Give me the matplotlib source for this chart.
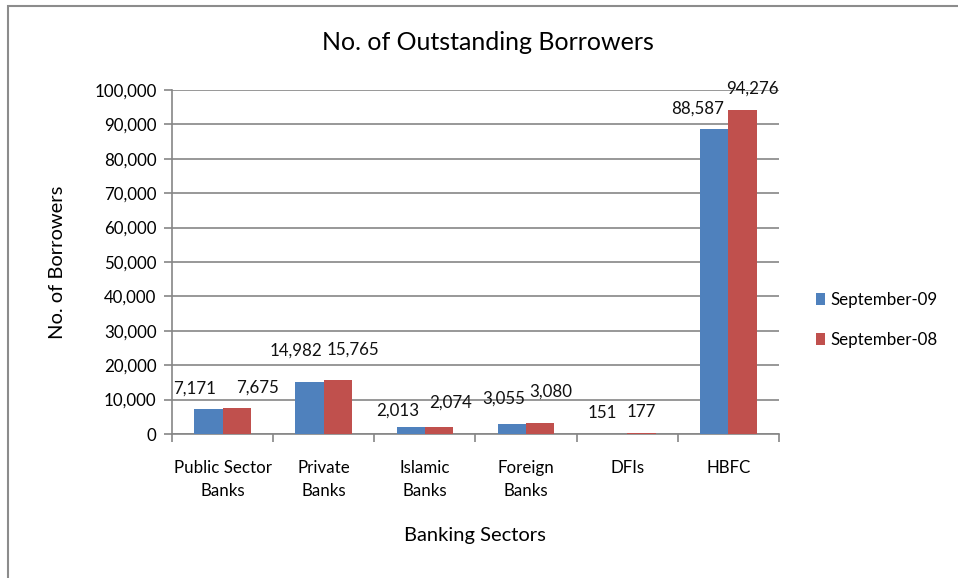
import matplotlib
matplotlib.use("Agg")
import matplotlib.pyplot as plt
import matplotlib.patches as mpatches
import numpy as np

# ── Data ─────────────────────────────────────────────────────────────────────
categories = ["Public Sector\nBanks", "Private\nBanks", "Islamic\nBanks",
              "Foreign\nBanks", "DFIs", "HBFC"]
sep09 = [7171, 14982, 2013, 3055, 151, 88587]
sep08 = [7675, 15765, 2074, 3080, 177, 94276]
series_names = ["September-09", "September-08"]

# label offsets (pixels) mimicking Excel's placement
off09 = [(-14, 16), (-14, 27), (-13, 11), (-8, 20), (-11, 16), (-17, 16)]
off08 = [(21, 15), (15, 25), (11, 19), (11, 27), (0, 16), (10, 16)]

BLUE = "#4F81BD"
RED = "#C0504D"
GRID = "#868686"
FS = 12.2

plt.rcParams["font.family"] = ["Lato", "DejaVu Sans"]

fig = plt.figure(figsize=(9.58, 5.78), dpi=100)
ax = fig.add_axes([0.1795, 0.2491, 0.6336, 0.5952])

# outer chart frame
fig.patches.append(mpatches.Rectangle((8 / 958, -0.05), 1.2, (578 - 6) / 578 + 0.05,
                                      transform=fig.transFigure, fill=False,
                                      edgecolor="#8c8c8c", linewidth=1.5))

x = np.arange(len(categories))
w = 0.28
b1 = ax.bar(x - w / 2, sep09, w, color=BLUE, label=series_names[0], zorder=3)
b2 = ax.bar(x + w / 2, sep08, w, color=RED, label=series_names[1], zorder=3)

for bars, vals, offs in [(b1, sep09, off09), (b2, sep08, off08)]:
    for bar, v, (dx, dy) in zip(bars, vals, offs):
        ax.annotate(f"{v:,}", (bar.get_x() + bar.get_width() / 2, v),
                    xytext=(dx, dy), textcoords="offset pixels",
                    ha="center", va="baseline", fontsize=FS, color="#111111",
                    zorder=4)

ax.set_xlim(-0.5, len(categories) - 0.5)
ax.set_ylim(0, 100000)
ax.set_yticks(np.arange(0, 100001, 10000))
ax.set_yticklabels([f"{int(t):,}" for t in np.arange(0, 100001, 10000)])
ax.yaxis.grid(True, color=GRID, linewidth=1.2, zorder=0)
ax.set_axisbelow(True)

ax.set_xticks(np.arange(-0.5, len(categories), 1.0))
ax.set_xticklabels([])
ax.set_xticks(x, minor=True)
ax.set_xticklabels(categories, minor=True, fontsize=FS, linespacing=1.55)
ax.tick_params(axis="x", which="minor", length=0, pad=18.5)
ax.tick_params(axis="x", which="major", length=6, color=GRID, width=1.2)
ax.tick_params(axis="y", length=6, color=GRID, width=1.2, labelsize=FS, pad=5)

for s in ["top", "right"]:
    ax.spines[s].set_visible(False)
for s in ["left", "bottom"]:
    ax.spines[s].set_color(GRID)
    ax.spines[s].set_linewidth(1.2)

fig.text(488 / 958, 1 - 42 / 578, "No. of Outstanding Borrowers",
         ha="center", va="center", fontsize=18)
fig.text(58 / 958, 1 - 262 / 578, "No. of Borrowers", rotation=90,
         ha="center", va="center", fontsize=14.5)
fig.text(475 / 958, 1 - 535 / 578, "Banking Sectors",
         ha="center", va="center", fontsize=14.5)

ax.legend(loc="center left", bbox_to_anchor=(816 / 958, 1 - 320 / 578),
          bbox_transform=fig.transFigure, frameon=False, fontsize=FS,
          handlelength=0.55, handleheight=0.7, handletextpad=0.3,
          labelspacing=1.45, borderaxespad=0, borderpad=0)

plt.savefig("out.png", dpi=100)
